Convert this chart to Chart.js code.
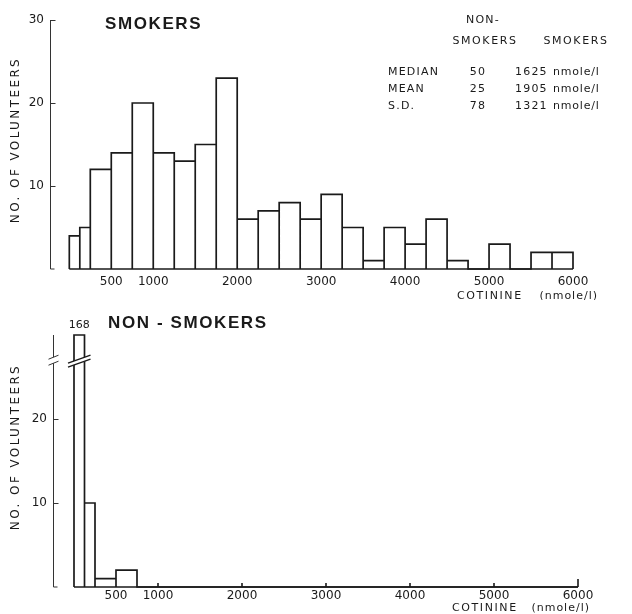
<!DOCTYPE html>
<html>
<head>
<meta charset="utf-8">
<script src="https://cdn.jsdelivr.net/npm/chart.js@4/dist/chart.umd.min.js"></script>
<style>
  body { margin: 0; background: #fff; }
  #wrap { position: relative; width: 632px; height: 614px; }
  canvas { position: absolute; left: 0; }
</style>
</head>
<body>
<div id="wrap">
  <canvas id="smokersChart" width="632" height="300" style="top:0"></canvas>
  <canvas id="nonSmokersChart" width="632" height="314" style="top:300px"></canvas>
</div>
<script>
// bin edges (nmole/l), shared by both histograms
const binEdges = [0, 125, 250, 500, 750, 1000, 1250, 1500, 1750, 2000, 2250, 2500, 2750,
                  3000, 3250, 3500, 3750, 4000, 4250, 4500, 4750, 5000, 5250, 5500, 5750, 6000];
const smokerCounts    = [4, 5, 12, 14, 20, 14, 13, 15, 23, 6, 7, 8, 6, 9, 5, 1, 5, 3, 6, 1, 0, 3, 0, 2, 2];
const nonSmokerCounts = [168, 10, 1, 2, 0, 0, 0, 0, 0, 0, 0, 0, 0, 0, 0, 0, 0, 0, 0, 0, 0, 0, 0, 0, 0];
const xTickValues = [500, 1000, 2000, 3000, 4000, 5000, 6000];
const smokerYTicks = [10, 20, 30];
const nonSmokerYTicks = [10, 20];
const statNames = ['MEDIAN', 'MEAN', 'S.D.'];
const nonSmokerStats = [50, 25, 78];
const smokerStats = [1625, 1905, 1321];

const FONT = '"DejaVu Sans", sans-serif';
const BOLD = '"Liberation Sans", Arial, sans-serif';
const INK = '#1a1a1a';

// histogram outline: every bin is its own box down to the baseline
function outline(counts, cap) {
    const pts = [];
    counts.forEach((c, i) => {
        const lo = binEdges[i], hi = binEdges[i + 1], h = Math.min(c, cap);
        pts.push({x: lo, y: 0}, {x: lo, y: h}, {x: hi, y: h}, {x: hi, y: 0});
    });
    return pts;
}

function text(ctx, str, x, y, font, align, spacing) {
    ctx.font = font;
    ctx.textAlign = align || 'left';
    ctx.textBaseline = 'middle';
    ctx.letterSpacing = (spacing || 0) + 'px';
    ctx.fillText(str, x, y);
}

// axes drawn like the printed figure: thin y line with inward ticks, baseline from 0 to 6000
const paperAxes = {
    id: 'paperAxes',
    afterDraw(chart, args, opts) {
        const {ctx, chartArea: a, scales: {x, y}} = chart;
        const ax = Math.round(a.left) + 0.5;
        const y0 = y.getPixelForValue(0);
        ctx.save();
        ctx.strokeStyle = '#333';
        ctx.lineWidth = 1;
        ctx.beginPath();
        if (opts.breakAt) {
            const yb = y.getPixelForValue(opts.breakAt);
            ctx.moveTo(ax, y.top); ctx.lineTo(ax, yb - 3);
            ctx.moveTo(ax, yb + 3); ctx.lineTo(ax, y0);
            ctx.moveTo(ax - 5, yb - 1); ctx.lineTo(ax + 5, yb - 5);
            ctx.moveTo(ax - 5, yb + 5); ctx.lineTo(ax + 5, yb + 1);
        } else {
            ctx.moveTo(ax, y.top); ctx.lineTo(ax, y0);
        }
        ctx.moveTo(ax, y0); ctx.lineTo(ax + 4, y0);
        opts.yTicks.forEach(v => {
            const py = Math.round(y.getPixelForValue(v)) + 0.5;
            ctx.moveTo(ax, py); ctx.lineTo(ax + 5, py);
        });
        ctx.stroke();

        ctx.strokeStyle = INK;
        ctx.lineWidth = 1.6;
        ctx.beginPath();
        ctx.moveTo(x.getPixelForValue(0), y0);
        ctx.lineTo(x.getPixelForValue(6000), y0);
        if (opts.xTicks) {
            [1000, 2000, 3000, 4000, 5000].forEach(v => {
                const px = x.getPixelForValue(v);
                ctx.moveTo(px, y0); ctx.lineTo(px, y0 - 4);
            });
            const pe = x.getPixelForValue(6000);
            ctx.moveTo(pe, y0); ctx.lineTo(pe, y0 - 8);
        }
        ctx.stroke();

        // broken tall bar
        if (opts.barBreak) {
            const b = opts.barBreak;
            const px1 = x.getPixelForValue(binEdges[b.bin]) - 6;
            const px2 = x.getPixelForValue(binEdges[b.bin + 1]) + 6;
            const yb = y.getPixelForValue(opts.breakAt);
            ctx.fillStyle = '#fff';
            ctx.beginPath();
            ctx.moveTo(px1, yb + 3); ctx.lineTo(px2, yb - 5);
            ctx.lineTo(px2, yb - 1); ctx.lineTo(px1, yb + 7);
            ctx.closePath();
            ctx.fill();
            ctx.lineWidth = 1.4;
            ctx.beginPath();
            ctx.moveTo(px1, yb + 3); ctx.lineTo(px2, yb - 5);
            ctx.moveTo(px1, yb + 7); ctx.lineTo(px2, yb - 1);
            ctx.stroke();
            ctx.fillStyle = INK;
            text(ctx, String(b.value), (px1 + px2) / 2, y.top - 10, '11px ' + FONT, 'center', 0);
        }

        // titles and labels
        ctx.fillStyle = INK;
        text(ctx, opts.title, opts.titleX, opts.titleY, 'bold 17px ' + BOLD, 'left', 1.6);
        ctx.save();
        ctx.translate(16, opts.yTitleY);
        ctx.rotate(-Math.PI / 2);
        text(ctx, 'NO. OF VOLUNTEERS', 0, 0, '12px ' + FONT, 'center', 2.4);
        ctx.restore();
        text(ctx, 'COTININE', opts.unitLeft, opts.unitY, '11px ' + FONT, 'left', 1.6);
        text(ctx, '(nmole/l)', opts.unitRight, opts.unitY, '11px ' + FONT, 'right', 1);

        if (opts.table) {
            const f = '11px ' + FONT;
            text(ctx, 'NON-', 483, 20, f, 'center', 1.2);
            text(ctx, 'SMOKERS', 485, 41, f, 'center', 1.6);
            text(ctx, 'SMOKERS', 576, 41, f, 'center', 1.6);
            const rowY = [72, 89, 106];
            statNames.forEach((name, i) => {
                text(ctx, name, 388, rowY[i], f, 'left', 1.2);
                text(ctx, String(nonSmokerStats[i]), 478, rowY[i], f, 'center', 1.2);
                text(ctx, String(smokerStats[i]), 515, rowY[i], f, 'left', 1.2);
                text(ctx, 'nmole/l', 553, rowY[i], f, 'left', 0.8);
            });
        }
        ctx.restore();
    }
};

function makeChart(id, counts, cfg) {
    return new Chart(document.getElementById(id), {
        type: 'line',
        data: {
            datasets: [{
                data: outline(counts, 30),
                borderColor: INK,
                borderWidth: 1.7,
                pointRadius: 0,
                tension: 0,
                fill: false,
                clip: false
            }]
        },
        options: {
            responsive: false,
            animation: false,
            layout: { padding: { top: cfg.top, right: cfg.right, left: 0, bottom: 0 } },
            plugins: {
                legend: { display: false },
                tooltip: { enabled: false },
                paperAxes: cfg.axes
            },
            scales: {
                x: {
                    type: 'linear',
                    min: cfg.xMin,
                    max: 6000,
                    afterBuildTicks: s => { s.ticks = xTickValues.map(v => ({ value: v })); },
                    afterFit: s => { s.height = cfg.xHeight; s.paddingLeft = 0; s.paddingRight = 0; },
                    grid: { display: false, drawTicks: false },
                    border: { display: false },
                    ticks: { padding: cfg.xPad, maxRotation: 0, autoSkip: false, color: INK,
                             callback: v => String(v),
                             font: { family: FONT, size: 12 } }
                },
                y: {
                    min: 0,
                    max: 30,
                    afterBuildTicks: s => { s.ticks = cfg.yTicks.map(v => ({ value: v })); },
                    afterFit: s => { s.width = cfg.yWidth; s.paddingTop = 0; s.paddingBottom = 0; },
                    grid: { display: false, drawTicks: false },
                    border: { display: false },
                    ticks: { padding: 6, color: INK, callback: v => String(v),
                             font: { family: FONT, size: 12 } }
                }
            }
        },
        plugins: [paperAxes]
    });
}

makeChart('smokersChart', smokerCounts, {
    top: 20, right: 59, xMin: -230, xHeight: 31, yWidth: 50, yTicks: smokerYTicks, xPad: 6,
    axes: {
        yTicks: smokerYTicks, title: 'SMOKERS', titleX: 105, titleY: 24, yTitleY: 140,
        unitLeft: 457, unitRight: 598, unitY: 296, table: true
    }
});

makeChart('nonSmokersChart', nonSmokerCounts, {
    top: 35, right: 54, xMin: -250, xHeight: 27, yWidth: 53, yTicks: nonSmokerYTicks, xPad: 2,
    axes: {
        yTicks: nonSmokerYTicks, title: 'NON - SMOKERS', titleX: 108, titleY: 23, yTitleY: 147,
        unitLeft: 452, unitRight: 590, unitY: 308, xTicks: true, breakAt: 27,
        barBreak: { bin: 0, value: nonSmokerCounts[0] }
    }
});
</script>
</body>
</html>
